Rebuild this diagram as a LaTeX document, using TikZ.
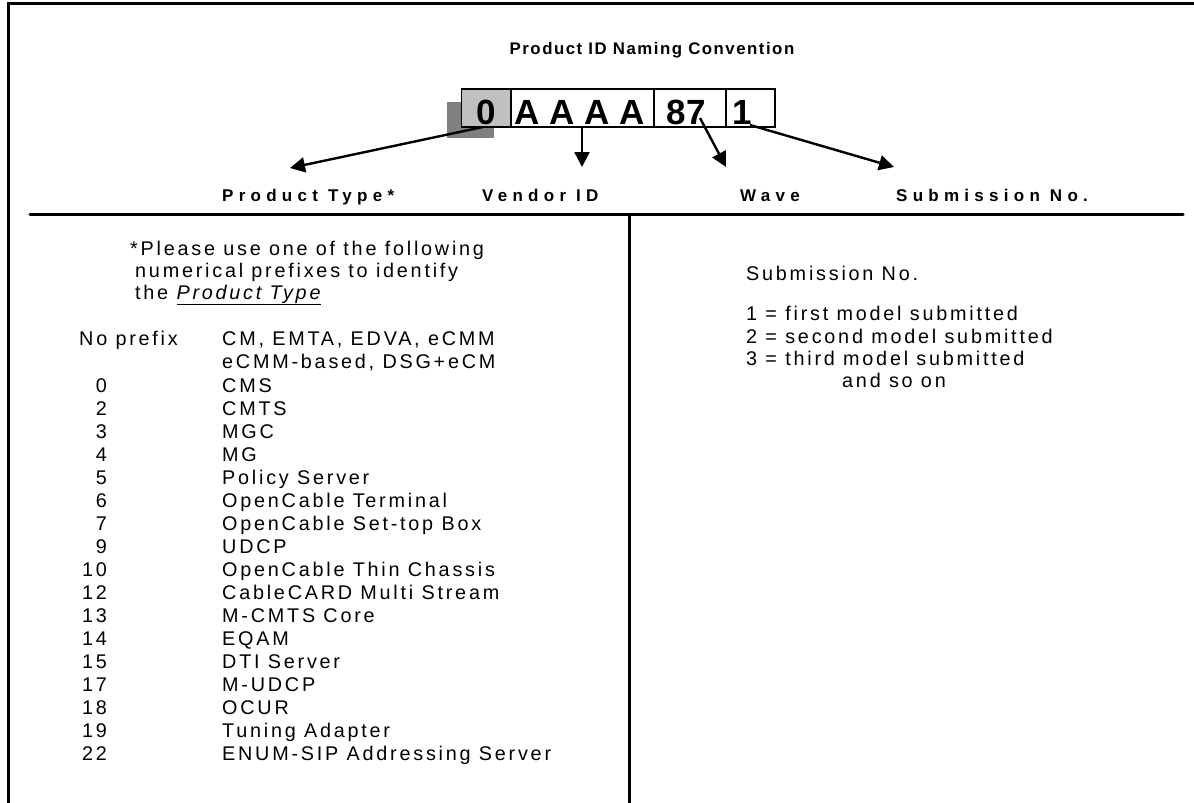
\documentclass[tikz,border=0pt]{standalone}
\usepackage{fontspec}
\setmainfont{Liberation Sans}
\newfontfamily\bodyf[LetterSpace=14]{Liberation Sans}
\newfontfamily\boldf[LetterSpace=31]{Liberation Sans Bold}
\newfontfamily\titlef[LetterSpace=9]{Liberation Sans Bold}
\newfontfamily\boxf{Liberation Sans Bold}
\usetikzlibrary{arrows.meta}
\definecolor{shadowgray}{RGB}{128,128,128}
\definecolor{boxgray}{RGB}{192,192,192}
\tikzset{
  frame/.style={line width=3pt},
  body/.style={font=\bodyf\fontsize{19.8}{22}\selectfont, anchor=base west, inner sep=0pt},
  lbl/.style={font=\boldf\fontsize{17}{20}\selectfont, anchor=base west, inner sep=0pt},
  idbox/.style={draw, line width=1.5pt, minimum height=38pt, inner sep=0pt, anchor=north west},
  idtxt/.style={font=\boxf\fontsize{35}{37}\selectfont, anchor=base, inner sep=0pt},
  ptr/.style={line width=2.4pt, -{Triangle[length=15pt,width=15pt]}},
}
\begin{document}
\begin{tikzpicture}[x=1pt,y=-1pt]
\useasboundingbox (0,0) rectangle (1194,803);
% frame
\draw[frame] (8,803) -- (8,3) -- (1194,3);
\draw[frame, line cap=round] (30,214) -- (1183,214);
\draw[frame] (629,214) -- (629,803);
% title
\node[font=\titlef\fontsize{16.8}{20}\selectfont, anchor=base, inner sep=0pt] (title) at (652,54) {Product ID Naming Convention};
% id boxes
\fill[shadowgray] (446.7,101.7) rectangle (494,137.7);
\node[idbox, fill=boxgray, minimum width=49.3pt] (b0) at (460.7,88.3) {};
\node[idbox, minimum width=143.3pt] (b1) at (510,88.3) {};
\node[idbox, minimum width=71.7pt] (b2) at (653.3,88.3) {};
\node[idbox, minimum width=49.3pt] (b3) at (725,88.3) {};
\node[idtxt] (t0) at (486,124) {0};
\node[idtxt] (t1) at (580,124) {A A A A};
\node[idtxt] (t2) at (686,124) {87};
\node[idtxt] (t3) at (742,124) {1};
% labels
\node[lbl] (lpt) at (222,201) {Product Type*};
\node[lbl] (lvid) at (482,201) {Vendor ID};
\node[lbl] (lwave) at (740,201) {Wave};
\node[lbl] (lsub) at (896,201) {Submission No.};
% arrow end coordinates
\coordinate (s0) at (483,127);
\coordinate (e0) at (290,168);
\coordinate (s1) at (582,126);
\coordinate (e1) at (582,167);
\coordinate (s2) at (700,118);
\coordinate (e2) at (726,167);
\coordinate (s3) at (750,125);
\coordinate (e3) at (894,167);
\draw[ptr] (s0) -- (e0);
\draw[ptr] (s1) -- (e1);
\draw[ptr] (s2) -- (e2);
\draw[ptr] (s3) -- (e3);
% left text
\node[body] (n1) at (130,255) {*Please use one of the following};
\node[body] (n2) at (135,277) {numerical prefixes to identify};
\node[body] (n3) at (135,299) {the \underline{\itshape Product Type}};
\node[body] (np) at (79,345) {No prefix};
\node[body] (npa) at (222,345) {CM, EMTA, EDVA, eCMM};
\node[body] (npb) at (222,368) {eCMM-based, DSG+eCM};
\foreach \n/\t [count=\i from 0] in {0/CMS,2/CMTS,3/MGC,4/MG,5/Policy Server,6/OpenCable Terminal,7/OpenCable Set-top Box,9/UDCP,10/OpenCable Thin Chassis,12/CableCARD Multi Stream,13/M-CMTS Core,14/EQAM,15/DTI Server,17/M-UDCP,18/OCUR,19/Tuning Adapter,22/ENUM-SIP Addressing Server}{
  \node[body, anchor=base east] (num\i) at (107,392+23*\i) {\n};
  \node[body] (item\i) at (222,392+23*\i) {\t};
}
% right text
\node[body] (r0) at (746,280) {Submission No.};
\node[body] (r1) at (746,320) {1 = first model submitted};
\node[body] (r2) at (746,343) {2 = second model submitted};
\node[body] (r3) at (746,365) {3 = third model submitted};
\node[body] (r4) at (842,387) {and so on};
\end{tikzpicture}
\end{document}
